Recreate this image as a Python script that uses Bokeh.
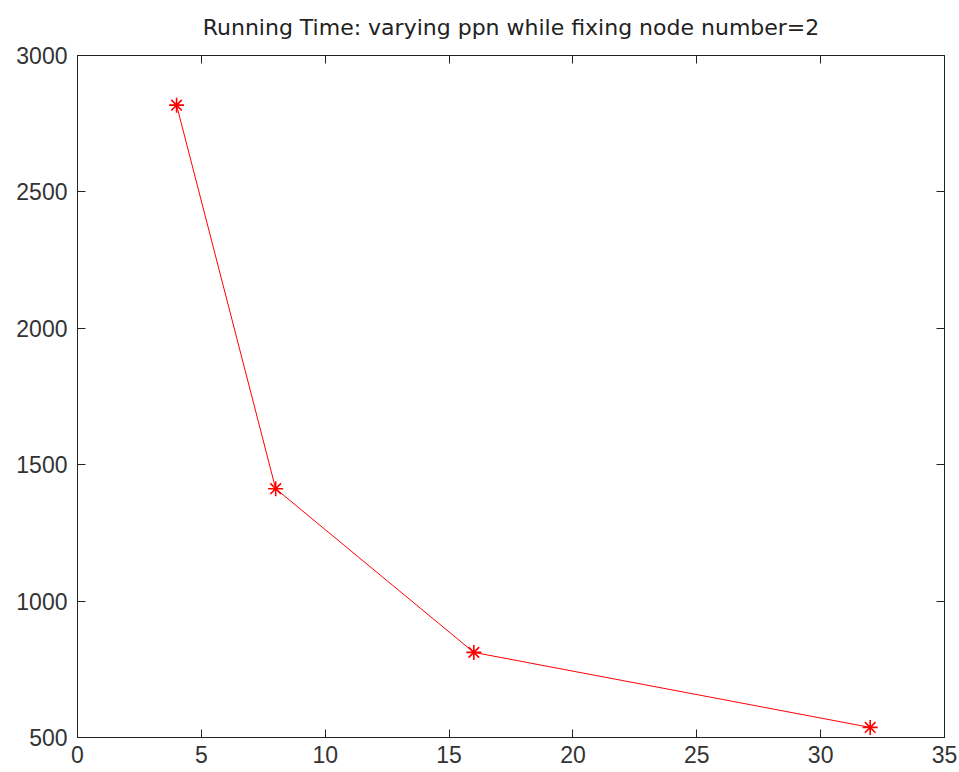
from bokeh.plotting import figure
from bokeh.models import LinearAxis, Range1d, FixedTicker, Title
from bokeh.embed import file_html
from bokeh.resources import INLINE

ppn = [4, 8, 16, 32]
running_time = [2818, 1412, 812, 537]
x_ticks = [0, 5, 10, 15, 20, 25, 30, 35]
y_ticks = [500, 1000, 1500, 2000, 2500, 3000]
title_text = "Running Time: varying ppn while fixing node number=2"

p = figure(width=959, height=772, output_backend="svg", toolbar_location=None,
           x_range=Range1d(0, 35), y_range=Range1d(500, 3000),
           x_axis_location=None, y_axis_location=None,
           min_border_left=77, min_border_right=15, min_border_top=55, min_border_bottom=35)
p.title = None
p.grid.visible = False
p.outline_line_color = "#222222"
p.outline_line_width = 1
p.background_fill_color = "white"
p.border_fill_color = "white"

def make_axis(ticks, labels=True):
    ax = LinearAxis(ticker=FixedTicker(ticks=ticks))
    ax.major_tick_in = 8
    ax.major_tick_out = 0
    ax.minor_tick_line_color = None
    ax.axis_line_color = "#222222"
    ax.major_tick_line_color = "#222222"
    ax.major_label_text_font = "Liberation Sans"
    ax.major_label_text_font_size = "23px"
    ax.major_label_text_color = "#333333"
    if not labels:
        ax.major_label_overrides = {t: "" for t in ticks}
        ax.major_label_standoff = 0
    return ax

bx = make_axis(x_ticks); bx.major_label_standoff = 8
ly = make_axis(y_ticks); ly.major_label_standoff = 10
ty = make_axis(x_ticks, labels=False)
ry = make_axis(y_ticks, labels=False)
p.add_layout(bx, "below")
p.add_layout(ly, "left")
p.add_layout(ty, "above")
p.add_layout(ry, "right")

t = Title(text=title_text, align="center", vertical_align="top", text_font="DejaVu Sans",
          text_font_size="22px", text_font_style="normal", text_color="#222222",
          standoff=27)
p.add_layout(t, "above")

p.line(ppn, running_time, line_color="red", line_width=1)
p.scatter(ppn, running_time, marker="asterisk", size=15, line_color="red", line_width=1.6)

open("out.html", "w").write(file_html(p, INLINE))
